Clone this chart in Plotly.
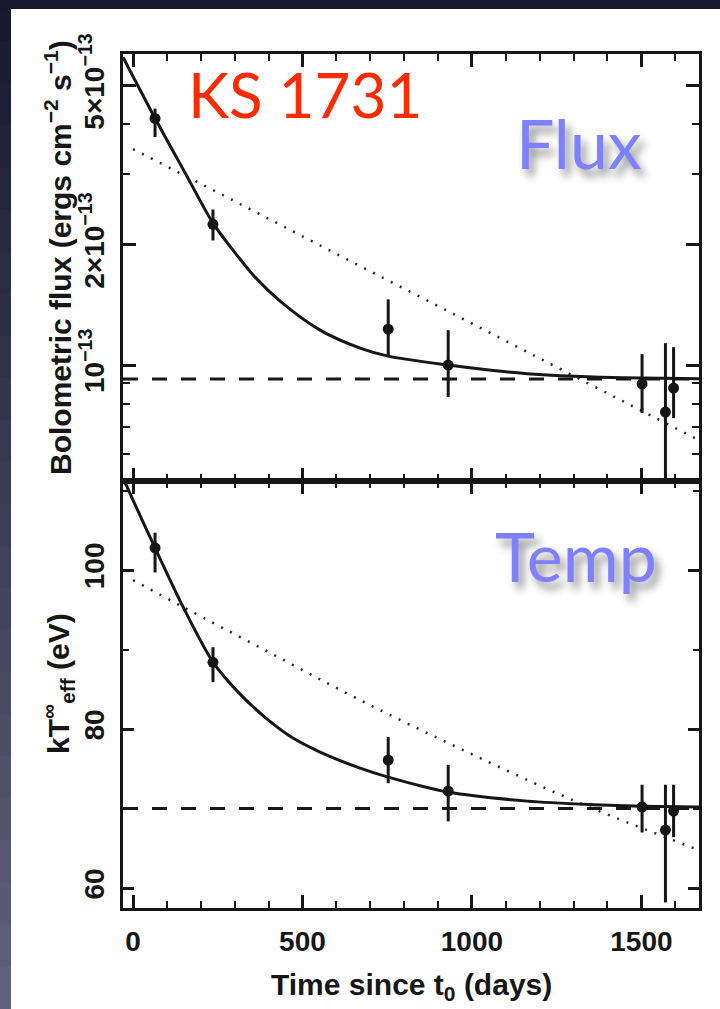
import math
import plotly.graph_objects as go

# ---- Observations: KS 1731 cooling after outburst ----
days = [65, 236, 753, 930, 1502, 1571, 1595]

# bolometric flux, units of 1e-13 erg cm^-2 s^-1
flux = [4.14, 2.25, 1.23, 1.00, 0.897, 0.763, 0.876]
flux_hi = [4.38, 2.45, 1.46, 1.223, 1.065, 1.135, 1.109]
flux_lo = [3.72, 2.05, 1.047, 0.832, 0.759, 0.45, 0.737]

# effective temperature at infinity, eV
temp = [102.8, 88.4, 76.1, 72.2, 70.2, 67.3, 69.7]
temp_hi = [104.7, 90.3, 79.0, 75.5, 73.0, 73.0, 73.0]
temp_lo = [99.7, 85.9, 73.2, 68.4, 67.0, 58.2, 66.4]

# exponential-plus-constant fit curves
fit_flux_days = [-29.5, 65, 151, 236, 295, 360, 434, 552, 670, 753, 930,
                 1063, 1163, 1261, 1379, 1503, 1670]
fit_flux = [5.89, 4.145, 3.055, 2.265, 1.939, 1.660, 1.445, 1.223, 1.103,
            1.053, 1.000, 0.969, 0.952, 0.941, 0.933, 0.928, 0.924]
fit_temp_days = [-29.5, 0, 65, 148, 236, 316, 396, 472, 552, 670, 753, 930,
                 1163, 1358, 1500, 1670]
fit_temp = [111.6, 108.8, 102.8, 95.35, 88.43, 84.40, 81.26, 78.87, 77.11,
            75.09, 73.96, 72.08, 70.94, 70.50, 70.31, 70.19]

# simple exponential decay (no floor)
alt_flux_days = [0, 300, 600, 900, 1200, 1500, 1670]
alt_flux = [3.47, 2.57, 1.898, 1.405, 1.039, 0.769, 0.649]
alt_temp_days = [0, 148, 400, 670, 974, 1311, 1670]
alt_temp = [98.74, 95.35, 89.69, 83.65, 77.36, 70.82, 64.78]

# quiescent base levels
base_flux = 0.923
base_temp = 70.0

x_range = [-29.5, 1670]
flux_ticks = [1, 2, 5]
flux_tick_text = ["10<sup>−13</sup>", "2×10<sup>−13</sup>", "5×10<sup>−13</sup>"]
flux_minor = [0.6, 0.7, 0.8, 0.9, 3, 4]
temp_ticks = [60, 80, 100]
temp_minor = [70, 90, 110]
time_ticks = [0, 500, 1000, 1500]

E13 = 1e-13
INK = "#161616"
DOT = dict(color="#2a2a2a", width=2.5, dash="2px,8px", shape="spline")

fig = go.Figure()

# ---------- flux panel ----------
fig.add_trace(go.Scatter(
    x=alt_flux_days, y=[v * E13 for v in alt_flux], mode="lines",
    line=DOT, xaxis="x2", yaxis="y2", hoverinfo="skip"))
fig.add_trace(go.Scatter(
    x=x_range, y=[base_flux * E13] * 2, mode="lines",
    line=dict(color=INK, width=3, dash="15px,14px"),
    xaxis="x2", yaxis="y2", hoverinfo="skip"))
fig.add_trace(go.Scatter(
    x=fit_flux_days, y=[v * E13 for v in fit_flux], mode="lines",
    line=dict(color=INK, width=3, shape="spline", smoothing=0.8),
    xaxis="x2", yaxis="y2", hoverinfo="skip"))
fig.add_trace(go.Scatter(
    x=days, y=[v * E13 for v in flux], mode="markers",
    marker=dict(color=INK, size=11),
    error_y=dict(type="data", symmetric=False,
                 array=[(h - v) * E13 for h, v in zip(flux_hi, flux)],
                 arrayminus=[(v - l) * E13 for l, v in zip(flux_lo, flux)],
                 color=INK, thickness=3, width=0),
    xaxis="x2", yaxis="y2"))

# ---------- temperature panel ----------
fig.add_trace(go.Scatter(
    x=alt_temp_days, y=alt_temp, mode="lines",
    line=DOT, xaxis="x", yaxis="y", hoverinfo="skip"))
fig.add_trace(go.Scatter(
    x=x_range, y=[base_temp] * 2, mode="lines",
    line=dict(color=INK, width=3, dash="15px,14px"),
    xaxis="x", yaxis="y", hoverinfo="skip"))
fig.add_trace(go.Scatter(
    x=fit_temp_days, y=fit_temp, mode="lines",
    line=dict(color=INK, width=3, shape="spline", smoothing=0.8),
    xaxis="x", yaxis="y", hoverinfo="skip"))
fig.add_trace(go.Scatter(
    x=days, y=temp, mode="markers",
    marker=dict(color=INK, size=11),
    error_y=dict(type="data", symmetric=False,
                 array=[h - v for h, v in zip(temp_hi, temp)],
                 arrayminus=[v - l for l, v in zip(temp_lo, temp)],
                 color=INK, thickness=3, width=0),
    xaxis="x", yaxis="y"))

W, H = 720, 1009
left, right = 123, 699
top, mid, bottom = 54, 481, 908
xdom = [left / W, right / W]
tick_font = dict(family="Liberation Sans", size=28, color=INK, weight="bold")

common = dict(showline=True, linewidth=3, linecolor=INK, mirror="ticks",
              ticks="inside", tickwidth=2.5, tickcolor=INK, automargin=False,
              showgrid=False, zeroline=False, tickfont=tick_font)
x_minor = dict(dtick=100, tick0=0, ticks="inside", ticklen=7,
               tickwidth=2, tickcolor=INK)

fig.update_layout(
    width=W, height=H, margin=dict(l=0, r=0, t=0, b=0, autoexpand=False),
    paper_bgcolor="#191a30", plot_bgcolor="white", showlegend=False,
    xaxis=dict(domain=xdom, range=x_range, anchor="y",
               tickmode="array", tickvals=time_ticks, ticklen=13,
               ticklabelstandoff=6, minor=x_minor, **common),
    xaxis2=dict(domain=xdom, range=x_range, anchor="y2", matches="x",
                showticklabels=False, tickmode="array", tickvals=time_ticks,
                ticklen=13, minor=x_minor, **common),
    yaxis=dict(domain=[1 - bottom / H, 1 - mid / H], range=[57.5, 111.2],
               anchor="x", tickmode="array", tickvals=temp_ticks,
               ticklen=11, tickangle=-90, ticklabelstandoff=5,
               minor=dict(tickmode="array", tickvals=temp_minor,
                          ticks="inside", ticklen=6, tickwidth=2,
                          tickcolor=INK), **common),
    yaxis2=dict(domain=[1 - mid / H, 1 - top / H], type="log",
                range=[math.log10(0.513 * E13), math.log10(6.0 * E13)],
                anchor="x2", tickmode="array",
                tickvals=[t * E13 for t in flux_ticks], ticktext=flux_tick_text,
                ticklen=13, tickangle=-90, ticklabelstandoff=5,
                minor=dict(tickmode="array",
                           tickvals=[t * E13 for t in flux_minor],
                           ticks="inside", ticklen=7, tickwidth=2,
                           tickcolor=INK), **common),
)

# slide backdrop: dark frame with a white sheet
shapes = []
n = 24
c0, c1 = (24, 26, 46), (94, 98, 122)
for i in range(n):
    f = i / (n - 1)
    col = tuple(int(a + (b - a) * f) for a, b in zip(c0, c1))
    shapes.append(dict(type="rect", xref="paper", yref="paper", layer="below",
                       x0=0, x1=11 / W, y0=1 - (i + 1) / n, y1=1 - i / n + 0.001,
                       fillcolor="rgb(%d,%d,%d)" % col, line=dict(width=0)))
shapes.append(dict(type="rect", xref="paper", yref="paper", layer="below",
                   x0=0, x1=1, y0=1 - 9 / H, y1=1,
                   fillcolor="#17182c", line=dict(width=0)))
shapes.append(dict(type="rect", xref="paper", yref="paper", layer="below",
                   x0=11 / W, x1=1, y0=0, y1=1 - 9 / H,
                   fillcolor="white", line=dict(width=0)))
fig.update_layout(shapes=shapes)

title_font = dict(family="Liberation Sans", size=30, color=INK, weight="bold")
label_font = "Lato"
shadow = "5px 7px 8px rgba(0,0,0,0.45)"
annotations = [
    dict(text="Bolometric flux (ergs cm<sup>−2</sup> s<sup>−1</sup>)",
         x=58 / W, y=1 - 258 / H, textangle=-90, font=title_font),
    dict(text="kT<sup>∞</sup><sub>eff</sub> (eV)",
         x=58 / W, y=1 - 684 / H, textangle=-90, font=title_font),
    dict(text="Time since t<sub>0</sub> (days)",
         x=411 / W, y=1 - 986 / H, font=title_font),
    dict(text="KS 1731", x=305 / W, y=1 - 94 / H,
         font=dict(family=label_font, size=62, color="#ff2a00")),
    dict(text="Flux", x=579 / W, y=1 - 142 / H,
         font=dict(family=label_font, size=68, color="#7f80ff", shadow=shadow)),
    dict(text="Temp", x=576 / W, y=1 - 555 / H,
         font=dict(family=label_font, size=68, color="#7f80ff", shadow=shadow)),
]
for a in annotations:
    a.update(xref="paper", yref="paper", showarrow=False,
             xanchor="center", yanchor="middle")
fig.update_layout(annotations=annotations)

fig.write_html("out.html")
